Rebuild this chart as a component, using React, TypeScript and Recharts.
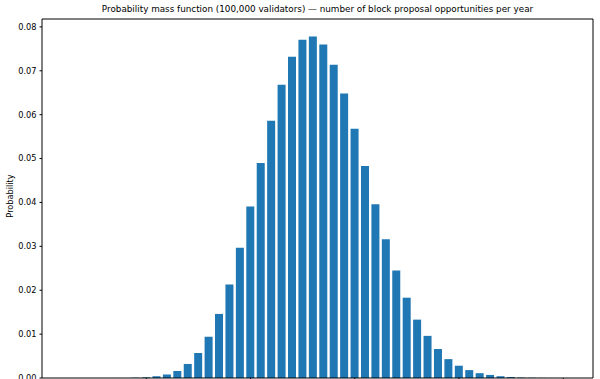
import React from 'react'
import { BarChart, Bar, XAxis, YAxis, ReferenceLine } from 'recharts'

// number of proposal opportunities (k) and probability
const counts = [
  3, 4, 5, 6, 7, 8, 9, 10, 11, 12, 13, 14, 15, 16, 17, 18, 19, 20, 21, 22, 23, 24, 25, 26,
  27, 28, 29, 30, 31, 32, 33, 34, 35, 36, 37, 38, 39, 40, 41, 42, 43, 44, 45, 46, 47, 48, 49, 50,
]
const probabilities = [
  0, 0, 0, 0, 0.00001, 0.00002, 0.00006, 0.00016, 0.0004, 0.0008, 0.0016, 0.0032, 0.0057, 0.0094,
  0.0146, 0.0213, 0.0297, 0.0391, 0.049, 0.0586, 0.0668, 0.0732, 0.0771, 0.0778, 0.076, 0.0714,
  0.0648, 0.0568, 0.0483, 0.0396, 0.0316, 0.0245, 0.0183, 0.0133, 0.0096, 0.0066, 0.0043, 0.0028,
  0.0018, 0.0011, 0.0007, 0.0004, 0.0002, 0.0001, 0.00006, 0.00003, 0.00001, 0.00001,
]
const xTicks = [10, 20, 30, 40, 50]
const yTicks = [0, 0.01, 0.02, 0.03, 0.04, 0.05, 0.06, 0.07, 0.08]
const xMax = 52.85
const yMax = 0.0818

const data = counts.map((k, i) => ({ k, p: probabilities[i] }))

const font = '"DejaVu Sans", sans-serif'

export default function App() {
  return (
    <div style={{ position: 'absolute', left: 0, top: 0, width: 600, height: 400, background: '#fff', fontFamily: font }}>
      <div
        style={{
          position: 'absolute',
          left: 42,
          width: 551,
          top: 4,
          textAlign: 'center',
          fontSize: 8.8,
          color: '#000',
          whiteSpace: 'nowrap',
        }}
      >
        Probability mass function (100,000 validators) — number of block proposal opportunities per year
      </div>
      <div
        style={{
          position: 'absolute',
          left: 10,
          top: 196,
          fontSize: 8.2,
          transform: 'translate(-50%, -50%) rotate(-90deg)',
          whiteSpace: 'nowrap',
        }}
      >
        Probability
      </div>
      <BarChart
        width={600}
        height={400}
        data={data}
        margin={{ top: 19, right: 7, bottom: 0, left: 0 }}
        barSize={8}
      >
        <XAxis
          dataKey="k"
          type="number"
          domain={[0, xMax]}
          ticks={xTicks}
          allowDataOverflow
          height={22}
          stroke="#000"
          tickSize={2.5}
          tickMargin={3}
          tick={{ fontSize: 8.2, fill: '#000', fontFamily: font }}
        />
        <YAxis
          domain={[0, yMax]}
          ticks={yTicks}
          allowDataOverflow
          width={42}
          stroke="#000"
          tickSize={2.5}
          tickMargin={3}
          tickFormatter={(v: number) => v.toFixed(2)}
          tick={{ fontSize: 8.2, fill: '#000', fontFamily: font }}
        />
        <Bar dataKey="p" fill="#1f77b4" isAnimationActive={false} />
        {/* top and right spines */}
        <ReferenceLine y={yMax} stroke="#000" strokeWidth={1} />
        <ReferenceLine x={xMax} stroke="#000" strokeWidth={1} />
      </BarChart>
    </div>
  )
}
